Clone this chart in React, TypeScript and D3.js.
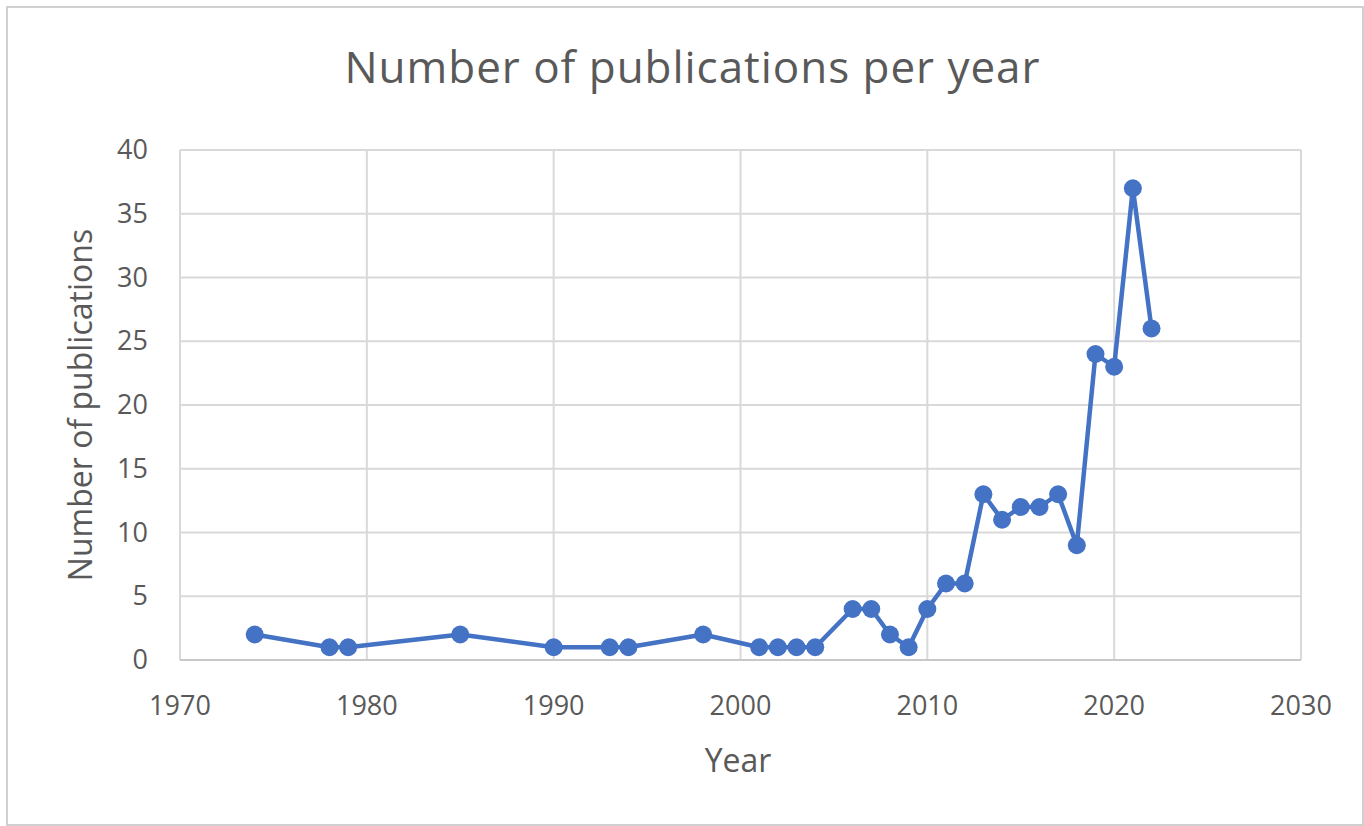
import React from "react";
import * as d3 from "d3";

const years = [1974, 1978, 1979, 1985, 1990, 1993, 1994, 1998, 2001, 2002, 2003, 2004, 2006, 2007, 2008, 2009, 2010, 2011, 2012, 2013, 2014, 2015, 2016, 2017, 2018, 2019, 2020, 2021, 2022];
const counts = [2, 1, 1, 2, 1, 1, 1, 2, 1, 1, 1, 1, 4, 4, 2, 1, 4, 6, 6, 13, 11, 12, 12, 13, 9, 24, 23, 37, 26];
const xTicks = [1970, 1980, 1990, 2000, 2010, 2020, 2030];
const yTicks = [0, 5, 10, 15, 20, 25, 30, 35, 40];

const W = 1364;
const H = 826;
const FONT = "'Open Sans', 'DejaVu Sans', sans-serif";
const TEXT = "#595959";
const GRID = "#d9d9d9";
const BLUE = "#4472C4";

export default function App() {
  const x = d3.scaleLinear().domain([1970, 2030]).range([180, 1301]);
  const y = d3.scaleLinear().domain([0, 40]).range([660, 150]);
  const pts = years.map((yr, i) => ({ yr, v: counts[i] }));
  const line = d3
    .line<{ yr: number; v: number }>()
    .x((d) => x(d.yr))
    .y((d) => y(d.v));

  return (
    <svg
      width={W}
      height={H}
      style={{ position: "absolute", left: 0, top: 0, background: "#fff" }}
      fontFamily={FONT}
    >
      <rect x={7} y={7} width={1356} height={818} fill="#fff" stroke="#d0d0d0" strokeWidth={2} />
      <text
        x={692}
        y={83}
        textAnchor="middle"
        fontSize={44}
        fill={TEXT}
        textLength={695}
        lengthAdjust="spacing"
      >
        Number of publications per year
      </text>
      {yTicks.map((t) => (
        <line key={"gy" + t} x1={180} x2={1301} y1={y(t)} y2={y(t)} stroke={GRID} strokeWidth={2} />
      ))}
      {xTicks.map((t) => (
        <line key={"gx" + t} x1={x(t)} x2={x(t)} y1={150} y2={660} stroke={GRID} strokeWidth={2} />
      ))}
      <line x1={180} x2={1301} y1={660} y2={660} stroke="#c8c8c8" strokeWidth={2} />
      {yTicks.map((t) => (
        <text key={"ty" + t} x={148} y={y(t) + 9} textAnchor="end" fontSize={27} fill={TEXT}>
          {t}
        </text>
      ))}
      {xTicks.map((t) => (
        <text key={"tx" + t} x={x(t)} y={715} textAnchor="middle" fontSize={27} fill={TEXT}>
          {t}
        </text>
      ))}
      <text x={738} y={772} textAnchor="middle" fontSize={32} fill={TEXT}>
        Year
      </text>
      <text
        transform={`translate(92, ${y(20)}) rotate(-90)`}
        textAnchor="middle"
        fontSize={32}
        fill={TEXT}
      >
        Number of publications
      </text>
      <path d={line(pts) || ""} fill="none" stroke={BLUE} strokeWidth={4.5} strokeLinejoin="round" />
      {pts.map((p) => (
        <circle key={p.yr} cx={x(p.yr)} cy={y(p.v)} r={9} fill={BLUE} />
      ))}
    </svg>
  );
}
